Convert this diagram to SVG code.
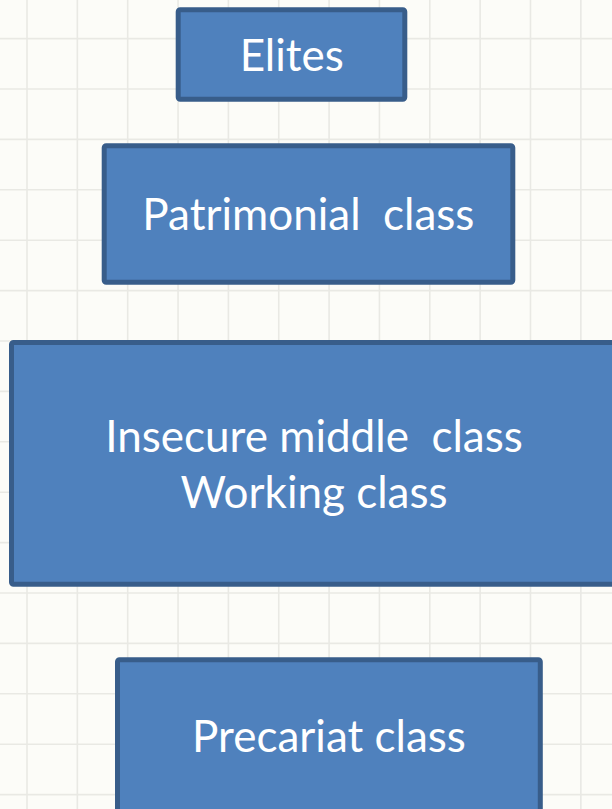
<svg xmlns="http://www.w3.org/2000/svg" width="612" height="809" viewBox="0 0 612 809">
<style>
.box{fill:#4f81bd;stroke:#385d8a;stroke-width:5}
.lbl{font-family:Lato,"Open Sans","Liberation Sans",sans-serif;fill:#ffffff;text-anchor:middle;white-space:pre}
.grid{stroke:#e9e9e4;stroke-width:1.6;fill:none}
</style>
<rect x="0" y="0" width="612" height="809" fill="#fcfcf8"/>
<g id="grid">
<path class="grid" d="M27 0V809M77.35 0V809M127.7 0V809M178.05 0V809M228.4 0V809M278.75 0V809M329.1 0V809M379.45 0V809M429.8 0V809M480.15 0V809M530.5 0V809M580.85 0V809M0 38.6H612M0 89H612M0 139.4H612M0 189.8H612M0 240.2H612M0 290.6H612M0 341H612M0 391.4H612M0 441.8H612M0 492.2H612M0 542.6H612M0 593H612M0 643.4H612M0 693.8H612M0 744.2H612M0 794.6H612"/>
</g>
<g id="connectors"></g>
<g id="elites">
<rect class="box" x="178.2" y="9.8" width="226.6" height="89.4" rx="2"/>
<text class="lbl" x="291.7" y="71" font-size="44">Elites</text>
</g>
<g id="patrimonial">
<rect class="box" x="104.2" y="145.8" width="408.6" height="136.4" rx="2"/>
<text class="lbl" x="308.4" y="230" font-size="44" xml:space="preserve">Patrimonial  class</text>
</g>
<g id="insecure">
<rect class="box" x="11.5" y="342.5" width="610" height="241.8" rx="2"/>
<text class="lbl" x="314" y="451.5" font-size="44" xml:space="preserve">Insecure middle  class</text>
<text class="lbl" x="314" y="508" font-size="44">Working class</text>
</g>
<g id="precariat">
<rect class="box" x="117.5" y="659.8" width="422.8" height="160" rx="2"/>
<text class="lbl" x="329" y="752" font-size="44">Precariat class</text>
</g>
</svg>
